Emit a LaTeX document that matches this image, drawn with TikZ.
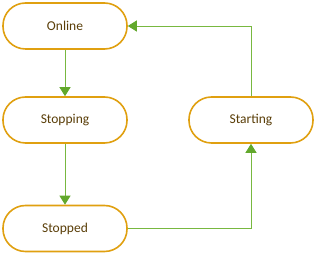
\documentclass[tikz,border=0pt]{standalone}
\usepackage{fontspec}
\setmainfont{Carlito}
\usetikzlibrary{arrows.meta}
\definecolor{boxc}{HTML}{E0A010}
\definecolor{txtc}{HTML}{5A3E08}
\definecolor{linec}{HTML}{78B840}
\definecolor{tipc}{HTML}{62A82C}
\begin{document}
\begin{tikzpicture}[x=1pt,y=-1pt,
  state/.style={draw=boxc,line width=1.6pt,rounded corners=22.5pt,minimum width=124pt,minimum height=46pt,inner sep=0pt,font=\fontsize{13.5}{16}\selectfont,text=txtc,fill=white},
  conn/.style={draw=linec,line width=0.9pt,-{Triangle[length=9pt,width=11pt,fill=tipc,color=tipc]}}]
\useasboundingbox (0,0) rectangle (319,264);
\node[state] (online) at (65,26) {Online};
\node[state] (stopping) at (65,120) {Stopping};
\node[state] (stopped) at (65,228.5) {Stopped};
\node[state] (starting) at (251,120) {Starting};
\draw[conn] (online) -- (stopping);
\draw[conn] (stopping) -- (stopped);
\draw[conn] (stopped.east) -| (starting.south);
\draw[conn] (starting.north) |- (online.east);
\end{tikzpicture}
\end{document}
